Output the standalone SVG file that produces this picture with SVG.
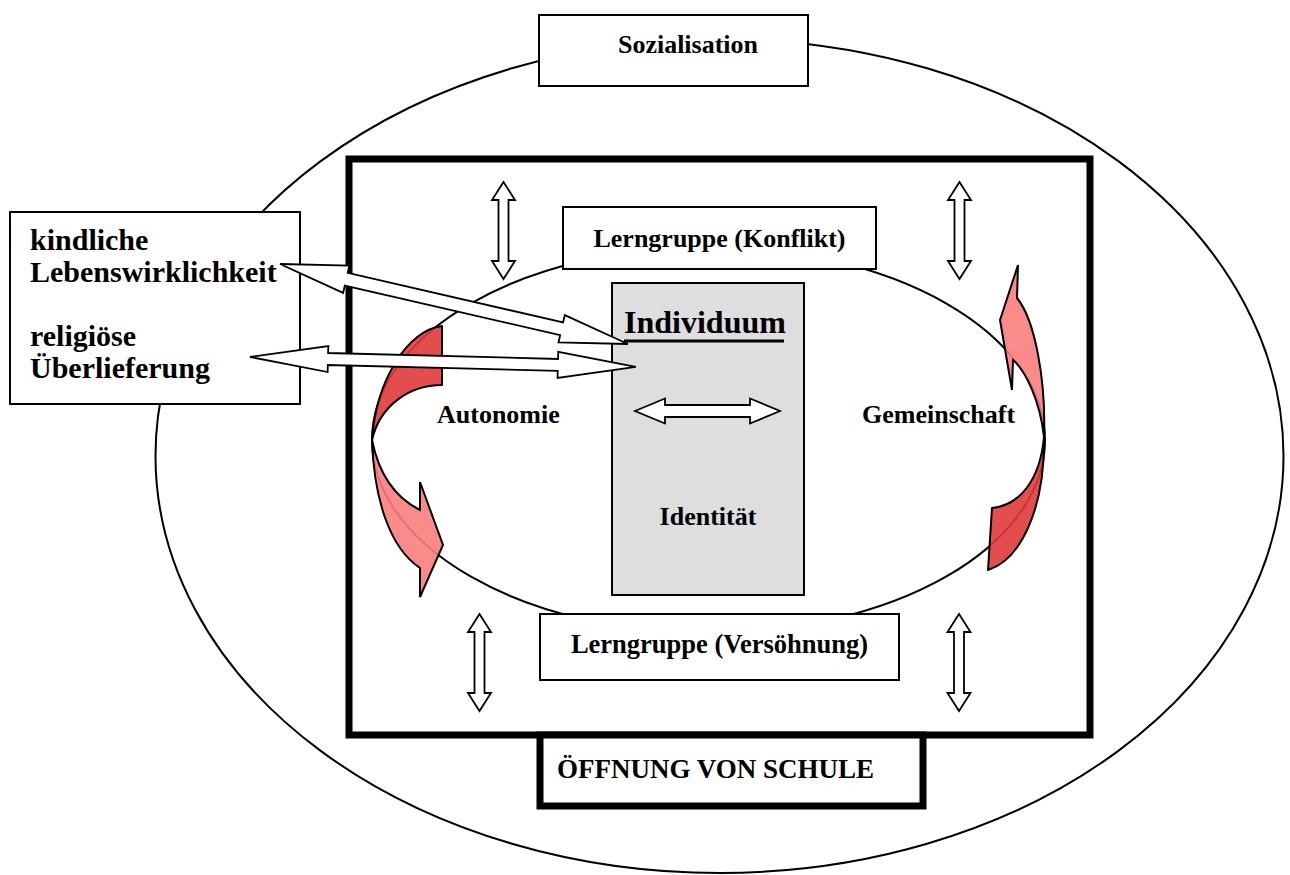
<svg xmlns="http://www.w3.org/2000/svg" xmlns:xlink="http://www.w3.org/1999/xlink" width="1290" height="875" viewBox="0 0 1290 875">
  <style>
    text { font-family: "Liberation Serif", "Times New Roman", serif; font-weight: bold; font-size: 26px; fill: #000; }
    .big { font-size: 30px; }
    .box { fill: #fff; stroke: #000; stroke-width: 2; }
    .thick { fill: none; stroke: #000; stroke-width: 7; }
    .ring { fill: none; stroke: #000; stroke-width: 2; }
    .arrow { fill: #fff; stroke: #000; stroke-width: 1.8; stroke-linejoin: miter; }
    .red-dark { fill: #e03a3a; fill-opacity: 0.9; stroke: #000; stroke-width: 2; stroke-linejoin: round; }
    .red-light { fill: #fb7d7d; fill-opacity: 0.9; stroke: #000; stroke-width: 2; stroke-linejoin: miter; }
    .mid { text-anchor: middle; }
  </style>
  <defs>
    <polygon id="vArrow" points="0,0 11.5,18 5,18 5,79 11.5,79 0,97 -11.5,79 -5,79 -5,18 -11.5,18"/>
  </defs>

  <rect width="1290" height="875" fill="#fff"/>

  <!-- outer circle: Sozialisation -->
  <g id="sozialisation-ring">
    <ellipse class="ring" cx="719.5" cy="456" rx="564" ry="417"/>
  </g>
  <g id="sozialisation">
    <rect class="box" x="539" y="15" width="269" height="71"/>
    <text class="mid" x="688" y="53">Sozialisation</text>
  </g>

  <!-- school frame -->
  <g id="schule-rahmen">
    <rect class="thick" x="349" y="159" width="741" height="576"/>
  </g>

  <!-- inner circle of the learning group -->
  <g id="lerngruppe-ring">
    <ellipse class="ring" cx="708.5" cy="440" rx="336.5" ry="193"/>
  </g>

  <g id="lerngruppe-konflikt">
    <rect class="box" x="563" y="207" width="313" height="62"/>
    <text class="mid" x="719.5" y="247">Lerngruppe (Konflikt)</text>
  </g>

  <g id="lerngruppe-versoehnung">
    <rect class="box" x="540" y="614" width="359" height="66"/>
    <text class="mid" x="719.5" y="653" style="font-size:26.5px">Lerngruppe (Versöhnung)</text>
  </g>

  <g id="individuum">
    <rect x="612" y="283" width="192" height="312" fill="#dedede" stroke="#000" stroke-width="2"/>
    <text x="624" y="333" style="font-size:32px">Individuum</text>
    <line x1="624" y1="341" x2="784" y2="341" stroke="#000" stroke-width="3"/>
    <text class="mid" x="708" y="525">Identität</text>
  </g>

  <g id="autonomie">
    <text x="437" y="423">Autonomie</text>
  </g>
  <g id="gemeinschaft">
    <text x="862" y="423">Gemeinschaft</text>
  </g>

  <g id="connectors">
    <!-- curved red arrow on the left (Autonomie) -->
    <path class="red-dark" d="M442,326 C408,330 376,380 372,440 C380,405 410,385 442,385 Z"/>
    <path class="red-light" d="M372,440 C374,500 390,548 420,568 L420,597 L443,545 L420,482 L420,510 C400,500 380,480 372,440 Z"/>

    <!-- curved red arrow on the right (Gemeinschaft) -->
    <path class="red-dark" d="M988,570 L992,508 C1020,505 1040,480 1044,437 C1045,510 1020,560 988,570 Z"/>
    <path class="red-light" d="M1044,437 C1046,380 1035,320 1017,298 L1018,265 L1000,320 L1012,390 L1013,360 C1025,370 1040,400 1044,437 Z"/>
  </g>

  <!-- sources of learning -->
  <g id="lebenswelt">
    <rect class="box" x="10" y="212" width="290" height="192"/>
    <text class="big" x="30" y="250">kindliche</text>
    <text class="big" x="30" y="282">Lebenswirklichkeit</text>
    <text class="big" x="30" y="346">religiöse</text>
    <text class="big" x="30" y="378">Überlieferung</text>
  </g>

  <g id="connectors-arrows">
    <polygon class="arrow" transform="translate(280,264) rotate(12.95)" points="0,0 68,-14 68,-6.5 289,-6.5 289,-14 357,0 289,14 289,6.5 68,6.5 68,14"/>
    <polygon class="arrow" transform="translate(250,357) rotate(1.48)" points="0,0 78,-13 78,-6 308,-6 308,-13 386,0 308,13 308,6 78,6 78,13"/>
    <polygon class="arrow" points="635,411 665,398.5 665,405 750,405 750,398.5 780,411 750,423.5 750,417 665,417 665,423.5"/>
    <use class="arrow" href="#vArrow" xlink:href="#vArrow" x="503.5" y="182"/>
    <use class="arrow" href="#vArrow" xlink:href="#vArrow" x="959.5" y="182"/>
    <use class="arrow" href="#vArrow" xlink:href="#vArrow" x="479.5" y="614"/>
    <use class="arrow" href="#vArrow" xlink:href="#vArrow" x="959" y="614"/>
  </g>

  <g id="oeffnung-von-schule">
    <rect x="540" y="735" width="383" height="71" fill="#fff" stroke="#000" stroke-width="7"/>
    <text x="557" y="778" style="font-size:27px">ÖFFNUNG VON SCHULE</text>
  </g>
</svg>
